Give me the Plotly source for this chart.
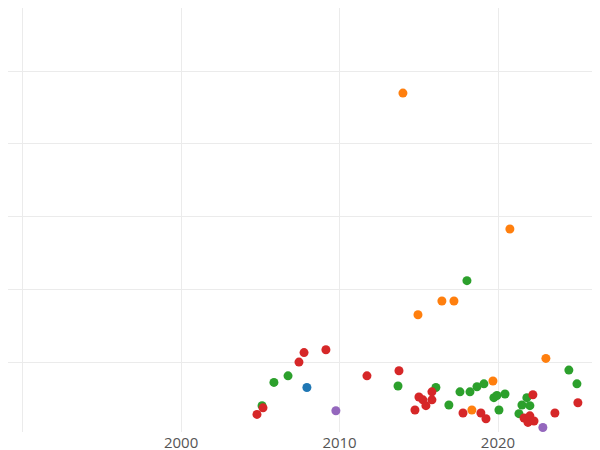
import plotly.graph_objects as go

orange_x = [2014.0, 2020.75, 2014.95, 2016.46, 2017.22, 2019.68, 2023.02, 2018.35]
orange_y = [4.70, 2.83, 1.65, 1.84, 1.84, 0.74, 1.05, 0.34]
blue_x = [2007.94]
blue_y = [0.65]
purple_x = [2009.77, 2022.83]
purple_y = [0.33, 0.10]
red_x = [1991.04, 1999.11, 2004.79, 2005.17, 2007.44, 2007.76, 2009.14, 2011.73, 2013.75,
         2014.76, 2015.01, 2015.26, 2015.45, 2015.83, 2015.83, 2017.79, 2018.92, 2019.24,
         2021.64, 2021.89, 2022.01, 2022.2, 2022.27, 2023.59, 2025.04]
red_y = [0.03, 0.0, 0.28, 0.37, 1.00, 1.13, 1.17, 0.81, 0.88,
         0.34, 0.52, 0.48, 0.40, 0.59, 0.48, 0.30, 0.30, 0.22,
         0.23, 0.17, 0.26, 0.55, 0.19, 0.30, 0.44]
green_x = [2005.11, 2005.86, 2006.75, 2013.69, 2016.08, 2016.9, 2017.6, 2018.04, 2018.23,
           2018.67, 2019.11, 2019.74, 2019.93, 2020.06, 2020.44, 2021.32, 2021.51, 2021.82,
           2022.01, 2024.47, 2024.98]
green_y = [0.40, 0.72, 0.81, 0.67, 0.65, 0.41, 0.59, 2.12, 0.59,
           0.66, 0.70, 0.51, 0.54, 0.34, 0.56, 0.29, 0.41, 0.51,
           0.40, 0.89, 0.70]

series = [
    (blue_x, blue_y, "#1f77b4"),
    (orange_x, orange_y, "#ff7f0e"),
    (green_x, green_y, "#2ca02c"),
    (red_x, red_y, "#d62728"),
    (purple_x, purple_y, "#9467bd"),
]

fig = go.Figure()
for xs, ys, c in series:
    fig.add_trace(go.Scatter(x=xs, y=ys, mode="markers", cliponaxis=False,
                             marker=dict(color=c, size=9), showlegend=False))

fig.update_layout(
    template="plotly_white", width=600, height=450,
    margin=dict(l=0, r=0, t=0, b=26, pad=0),
    font=dict(size=15, color="#555"),
)
fig.update_xaxes(range=[1989.08, 2026.94], dtick=10, showgrid=True, zeroline=False,
                 gridcolor="#ebebeb", automargin=False)
fig.update_yaxes(range=[0.038, 5.87], dtick=1, showticklabels=False, zeroline=False,
                 gridcolor="#ebebeb", automargin=False)
fig.write_html("out.html")
